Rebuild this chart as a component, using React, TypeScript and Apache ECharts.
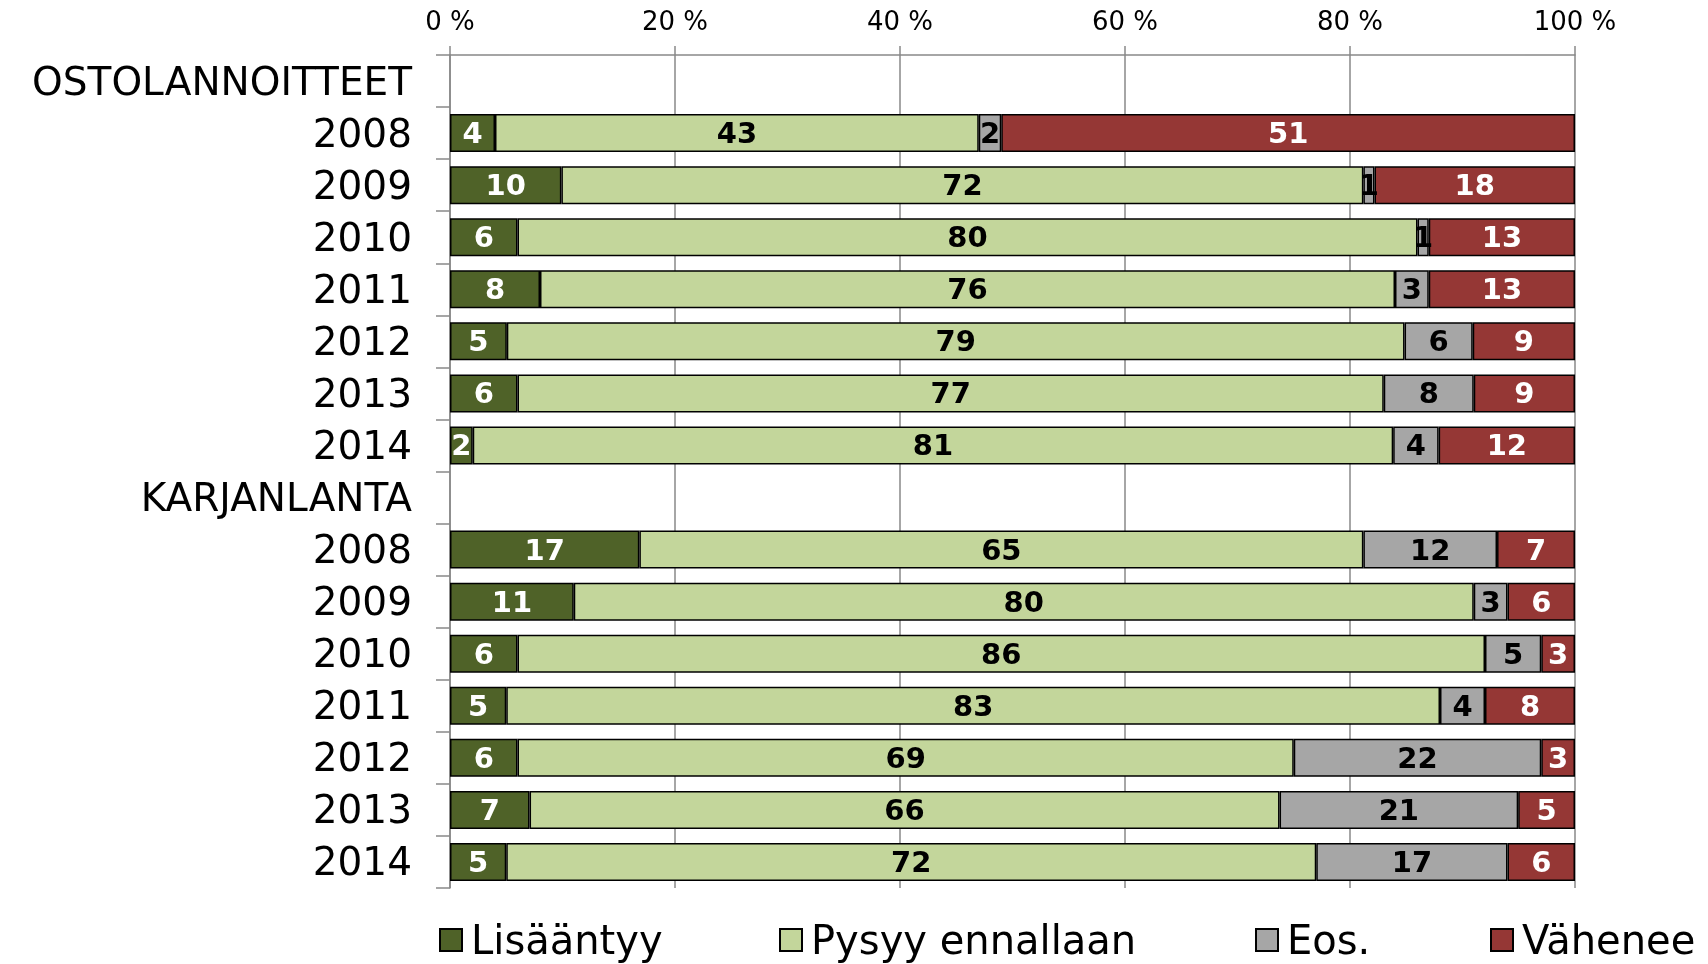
import React, { useEffect, useRef } from "react";
import * as echarts from "echarts";

const categories = [
  "OSTOLANNOITTEET", "2008", "2009", "2010", "2011", "2012", "2013", "2014",
  "KARJANLANTA", "2008", "2009", "2010", "2011", "2012", "2013", "2014",
];
const seriesNames = ["Lisääntyy", "Pysyy ennallaan", "Eos.", "Vähenee"];
const lisaantyy = [null, 4, 10, 6, 8, 5, 6, 2, null, 17, 11, 6, 5, 6, 7, 5];
const pysyy = [null, 43, 72, 80, 76, 79, 77, 81, null, 65, 80, 86, 83, 69, 66, 72];
const eos = [null, 2, 1, 1, 3, 6, 8, 4, null, 12, 3, 5, 4, 22, 21, 17];
const vahenee = [null, 51, 18, 13, 13, 9, 9, 12, null, 7, 6, 3, 8, 3, 5, 6];
const xTicks = [0, 20, 40, 60, 80, 100];

const colors = ["#4F6228", "#C3D69B", "#A6A6A6", "#953735"];
const labelColors = ["#ffffff", "#000000", "#000000", "#ffffff"];
const FONT = "DejaVu Sans";

export default function App() {
  const ref = useRef<HTMLDivElement>(null);
  useEffect(() => {
    if (!ref.current) return;
    const chart = echarts.init(ref.current, null, { renderer: "svg" });
    const raw = [lisaantyy, pysyy, eos, vahenee];
    const totals = categories.map((_, i) =>
      raw.reduce((s, arr) => s + (arr[i] ?? 0), 0)
    );
    const series = raw.map((arr, si) => ({
      name: seriesNames[si],
      type: "bar",
      stack: "total",
      barWidth: 38,
      data: arr.map((v, i) => (v == null ? null : (v / totals[i]) * 100)),
      itemStyle: { color: colors[si], borderColor: "#000", borderWidth: 1.5 },
      label: {
        show: true,
        position: "inside",
        color: labelColors[si],
        fontFamily: FONT,
        fontWeight: "bold",
        fontSize: 29,
        formatter: (p: any) => {
          const v = arr[p.dataIndex];
          return v == null ? "" : String(v);
        },
      },
    }));
    const legendLefts = [439, 779, 1255, 1490];
    chart.setOption({
      animation: false,
      grid: { left: 450, right: 133, top: 55, bottom: 76, containLabel: false },
      xAxis: {
        type: "value",
        position: "top",
        min: xTicks[0],
        max: xTicks[xTicks.length - 1],
        interval: 20,
        axisLine: { show: true, lineStyle: { color: "#888", width: 1.5 } },
        axisTick: { show: true, length: 9, lineStyle: { color: "#888", width: 1.5 } },
        splitLine: { show: true, lineStyle: { color: "#888", width: 1.5 } },
        axisLabel: {
          formatter: "{value} %",
          color: "#000",
          fontFamily: FONT,
          fontSize: 26,
          margin: 21,
        },
      },
      yAxis: {
        type: "category",
        inverse: true,
        data: categories,
        axisLine: { show: true, lineStyle: { color: "#888", width: 1.5 } },
        axisTick: { show: true, length: 14, lineStyle: { color: "#888", width: 1.5 } },
        axisLabel: {
          color: "#000",
          fontFamily: FONT,
          fontSize: 39,
          margin: 38,
          interval: 0,
        },
      },
      legend: seriesNames.map((n, i) => ({
        data: [n],
        left: legendLefts[i],
        top: 920,
        padding: 0,
        icon: "rect",
        itemWidth: 22,
        itemHeight: 22,
        selectedMode: false,
        textStyle: {
          color: "#000",
          fontFamily: FONT,
          fontSize: 40,
          lineHeight: 40,
          padding: [0, 0, 0, 4],
        },
      })),
      series,
    });
    return () => chart.dispose();
  }, []);
  return (
    <div
      ref={ref}
      style={{ position: "fixed", left: 0, top: 0, width: 1708, height: 964 }}
    />
  );
}
